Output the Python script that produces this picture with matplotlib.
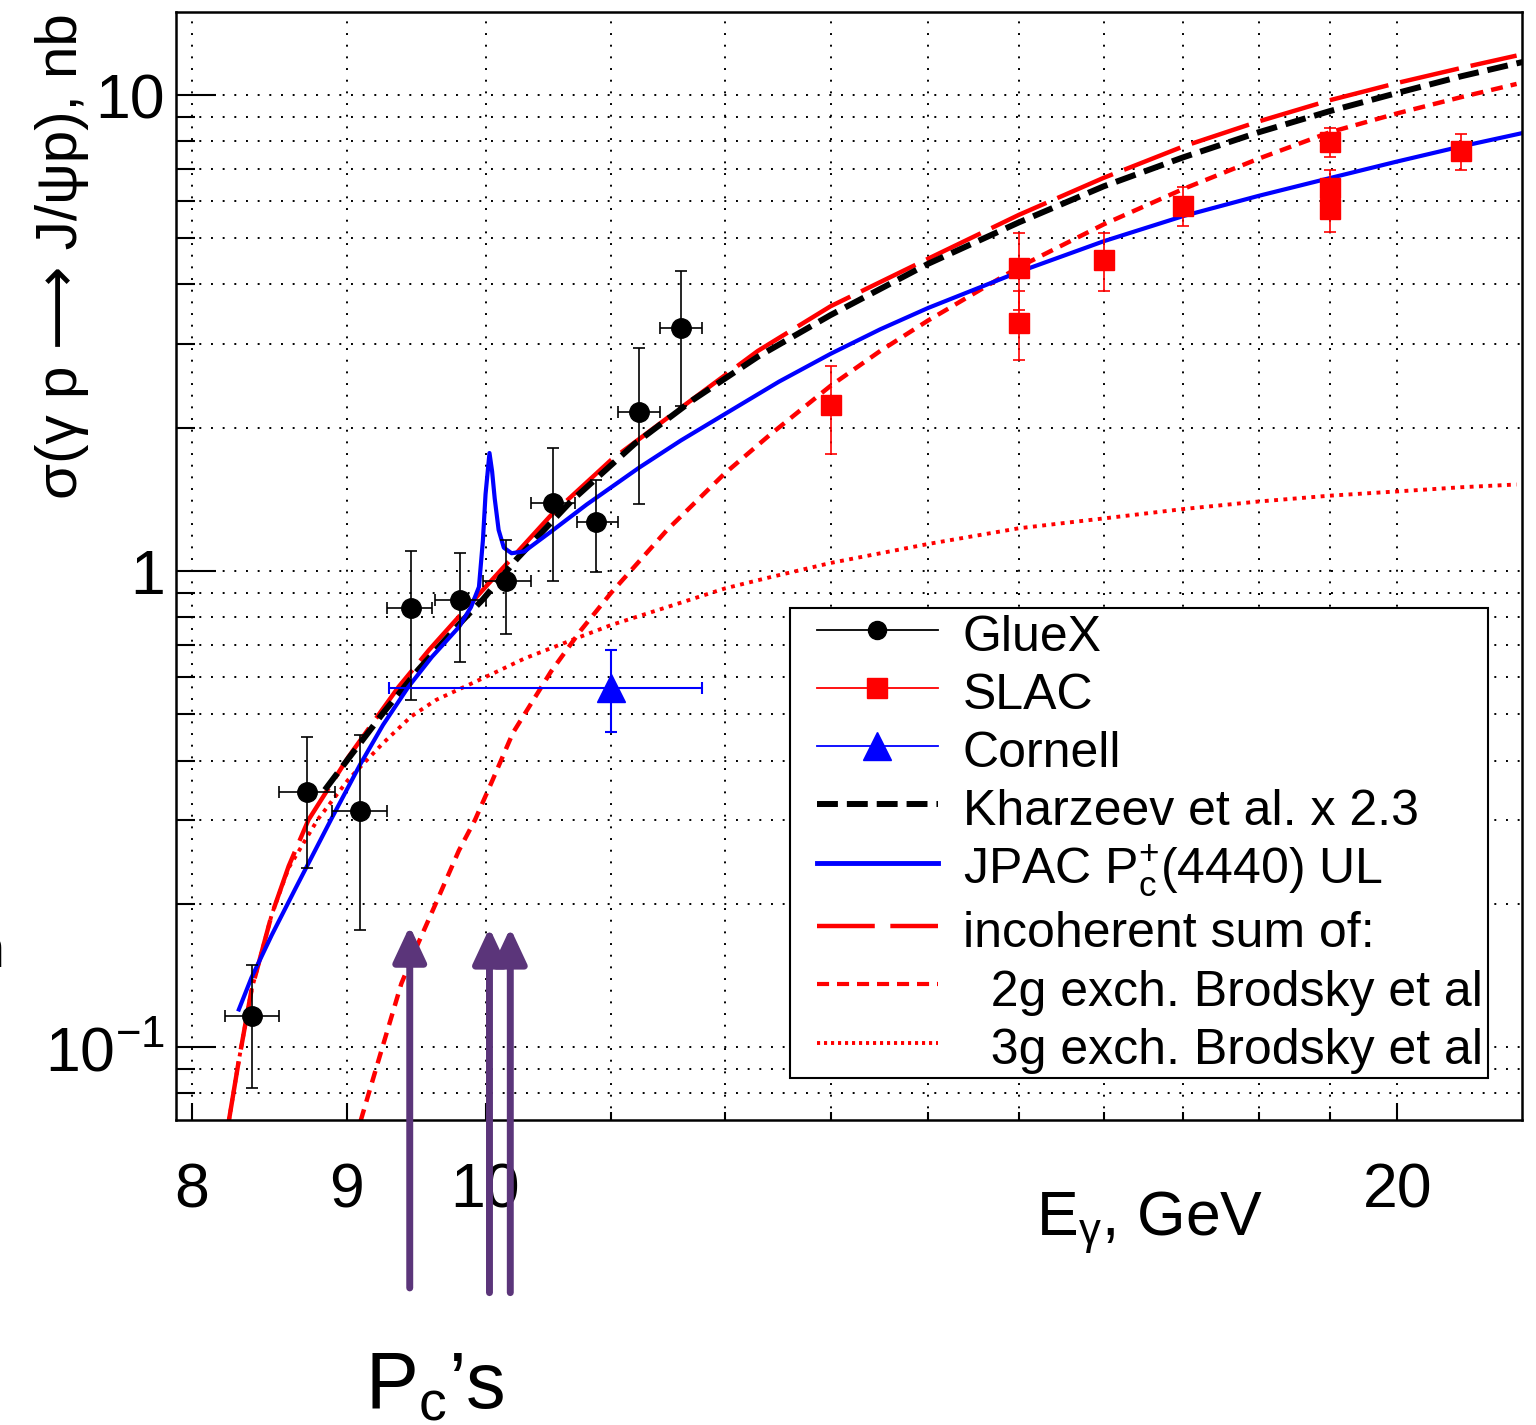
import matplotlib.pyplot as plt
from matplotlib.lines import Line2D
from matplotlib.patches import Rectangle
import numpy as np

plt.rcParams['font.family'] = ['Liberation Sans', 'DejaVu Sans']
plt.rcParams['mathtext.fontset'] = 'custom'
plt.rcParams['mathtext.rm'] = 'Liberation Sans'
plt.rcParams['mathtext.it'] = 'Liberation Sans:italic'
plt.rcParams['mathtext.bf'] = 'Liberation Sans:bold'

# GlueX (E, sigma) med fel
gluex_e = [8.37, 8.73, 9.09, 9.45, 9.81, 10.16, 10.53, 10.88, 11.24, 11.60]
gluex_e_lo = [8.20, 8.55, 8.90, 9.28, 9.62, 9.98, 10.35, 10.72, 11.06, 11.42]
gluex_e_hi = [8.55, 8.92, 9.28, 9.60, 10.00, 10.35, 10.70, 11.06, 11.42, 11.79]
gluex_sig = [0.116, 0.343, 0.313, 0.836, 0.869, 0.953, 1.39, 1.27, 2.16, 3.24]
gluex_sig_lo = [0.082, 0.238, 0.176, 0.536, 0.644, 0.737, 0.953, 0.995, 1.38, 2.22]
gluex_sig_hi = [0.149, 0.448, 0.452, 1.10, 1.09, 1.16, 1.81, 1.55, 2.94, 4.27]

# SLAC
slac_e = [13.0, 15.0, 15.0, 16.0, 17.0, 19.0, 19.0, 19.0, 21.0]
slac_sig = [2.23, 4.33, 3.32, 4.50, 5.85, 7.97, 6.38, 5.76, 7.63]
slac_err = [0.47, 0.80, 0.55, 0.62, 0.55, 0.55, 0.58, 0.60, 0.67]

# Cornell
cornell_e = [11.0]
cornell_e_lo = [9.29]
cornell_e_hi = [11.79]
cornell_sig = [0.568]
cornell_sig_lo = [0.459]
cornell_sig_hi = [0.683]

# modellkurvor
kh_e = [8.85, 9.0, 9.25, 9.5, 9.83, 9.98, 10.24, 10.67, 11.2, 11.71, 12.3, 13.0, 14.0,
        15.0, 16.0, 17.0, 18.0, 19.0, 20.0, 21.0, 22.0]
kh_sig = [0.347, 0.40, 0.503, 0.62, 0.789, 0.872, 1.06, 1.40, 1.85, 2.29, 2.82, 3.45,
          4.42, 5.40, 6.43, 7.40, 8.35, 9.25, 10.1, 10.95, 11.73]

jpac_e = [8.29, 8.37, 8.50, 8.65, 8.89, 9.09, 9.25, 9.43, 9.60, 9.80, 9.89, 9.95, 9.98,
          10.00, 10.03, 10.05, 10.07, 10.10, 10.14, 10.20, 10.30, 10.51, 10.80, 11.24,
          11.60, 12.0, 12.5, 13.0, 13.5, 14.0, 15.0, 16.0, 17.0, 18.0, 19.0, 20.0, 21.0, 22.0]
jpac_sig = [0.120, 0.140, 0.172, 0.214, 0.300, 0.392, 0.475, 0.571, 0.660, 0.763, 0.84,
            0.926, 1.16, 1.45, 1.77, 1.62, 1.42, 1.22, 1.12, 1.09, 1.10, 1.21, 1.38, 1.65,
            1.88, 2.14, 2.50, 2.86, 3.22, 3.57, 4.25, 4.93, 5.57, 6.14, 6.69, 7.25, 7.80, 8.32]

sum_e = [8.227, 8.29, 8.37, 8.50, 8.61, 8.74, 9.01, 9.36, 9.58, 10.0, 10.51, 11.0,
         11.61, 12.3, 13.0, 14.0, 15.0, 16.0, 17.0, 18.0, 19.0, 20.0, 21.0, 21.9]
sum_sig = [0.070, 0.0939, 0.1318, 0.190, 0.240, 0.300, 0.407, 0.571, 0.683, 0.926,
           1.31, 1.71, 2.21, 2.90, 3.60, 4.53, 5.60, 6.70, 7.80, 8.80, 9.75, 10.6, 11.4, 12.1]

g2_e = [9.094, 9.24, 9.38, 9.50, 9.63, 9.80, 9.92, 10.05, 10.21, 10.51, 10.75, 11.0,
        11.48, 11.99, 12.41, 13.0, 13.5, 14.0, 15.0, 16.0, 17.0, 18.0, 19.0, 20.0, 21.0, 21.9]
g2_sig = [0.070, 0.0986, 0.136, 0.165, 0.2007, 0.259, 0.300, 0.362, 0.457, 0.615, 0.75,
          0.899, 1.22, 1.60, 1.93, 2.45, 2.90, 3.36, 4.35, 5.35, 6.35, 7.35, 8.35, 9.15,
          9.90, 10.55]

g3_e = [8.227, 8.29, 8.37, 8.50, 8.61, 8.80, 9.01, 9.25, 9.45, 9.63, 10.0, 10.3, 10.67,
        11.0, 11.48, 12.0, 12.41, 13.0, 14.0, 15.0, 16.0, 17.0, 18.0, 19.0, 20.0, 21.0, 21.9]
g3_sig = [0.070, 0.0939, 0.1318, 0.190, 0.238, 0.30, 0.365, 0.435, 0.495, 0.536, 0.599,
          0.655, 0.715, 0.77, 0.84, 0.92, 0.97, 1.04, 1.14, 1.23, 1.29, 1.35, 1.40, 1.44,
          1.47, 1.50, 1.52]

# Pc-pilar
pc_e = [9.44, 10.03, 10.19]
pc_tip = [0.1796, 0.178, 0.178]
pc_bottom = [0.0312, 0.0305, 0.0305]

x_ticks = [8, 9, 10, 20]
x_ticklabels = ['8', '9', '10', '20']
x_minor = [11, 12, 13, 14, 15, 16, 17, 18, 19]
y_ticks = [0.1, 1, 10]
y_ticklabels = ['$10^{-1}$', '1', '10']
y_minor = [0.08, 0.09, 0.2, 0.3, 0.4, 0.5, 0.6, 0.7, 0.8, 0.9, 2, 3, 4, 5, 6, 7, 8, 9]

legend_labels = ['GlueX', 'SLAC', 'Cornell', 'Kharzeev et al. x 2.3',
                 r'JPAC P$_{\mathrm{c}}^{+}$(4440) UL', 'incoherent sum of:',
                 '  2g exch. Brodsky et al', '  3g exch. Brodsky et al']

purple = '#5b357a'

fig = plt.figure(figsize=(15.36, 14.25), dpi=100)
ax = fig.add_axes([0.11458, 0.21404, 0.87630, 0.77754])
ax.set_xscale('log')
ax.set_yscale('log')
ax.set_xlim(7.903, 21.99)
ax.set_ylim(0.0703, 14.94)

ax.set_xticks(x_ticks)
ax.set_xticklabels(x_ticklabels)
ax.set_xticks(x_minor, minor=True)
ax.set_xticklabels([], minor=True)
ax.set_yticks(y_ticks)
ax.set_yticklabels(y_ticklabels)
ax.set_yticks(y_minor, minor=True)
ax.set_yticklabels([], minor=True)

ax.tick_params(which='both', direction='in', top=False, right=False, width=1.5,
               labelsize=45)
ax.tick_params(axis='y', which='major', length=29, pad=8)
ax.tick_params(axis='y', which='minor', length=14)
ax.tick_params(axis='x', which='major', length=12, pad=30)
ax.tick_params(axis='x', which='minor', length=6)
for s in ax.spines.values():
    s.set_linewidth(1.8)

ax.grid(True, which='both', color='black', linestyle=(0, (1, 5)), linewidth=1.4)
ax.set_axisbelow(True)

# kurvor
ax.plot(g3_e, g3_sig, color='red', lw=2.8, ls=(0, (1, 1.4)), zorder=2)
ax.plot(g2_e, g2_sig, color='red', lw=3.2, ls=(0, (2.7, 1.8)), zorder=2)
ax.plot(sum_e, sum_sig, color='red', lw=3.2, ls=(0, (13.6, 2.7)), zorder=2.1)
ax.plot(kh_e, kh_sig, color='black', lw=4.3, ls=(0, (3.5, 1.5)), zorder=2.2)
ax.plot(jpac_e, jpac_sig, color='blue', lw=3.0, zorder=2.3)

# datapunkter
ge = np.array(gluex_e)
gs = np.array(gluex_sig)
ax.errorbar(ge, gs,
            xerr=[ge - np.array(gluex_e_lo), np.array(gluex_e_hi) - ge],
            yerr=[gs - np.array(gluex_sig_lo), np.array(gluex_sig_hi) - gs],
            fmt='o', color='black', ms=14, elinewidth=1.2, capsize=4, capthick=1.2,
            zorder=4)
ax.errorbar(slac_e, slac_sig, yerr=slac_err, fmt='s', color='red', ms=14,
            elinewidth=1.2, capsize=4, capthick=1.2, zorder=4)
ce = np.array(cornell_e)
cs = np.array(cornell_sig)
ax.errorbar(ce, cs,
            xerr=[ce - np.array(cornell_e_lo), np.array(cornell_e_hi) - ce],
            yerr=[cs - np.array(cornell_sig_lo), np.array(cornell_sig_hi) - cs],
            fmt='^', color='blue', ms=20, elinewidth=1.5, capsize=4, capthick=1.5,
            zorder=4)

# Pc-pilar
for e, t, b in zip(pc_e, pc_tip, pc_bottom):
    ax.annotate('', xy=(e, t), xytext=(e, b),
                arrowprops=dict(arrowstyle='-|>,head_length=0.9,head_width=0.42',
                                mutation_scale=24, lw=5, color=purple,
                                shrinkA=0, shrinkB=0, clip_on=False),
                annotation_clip=False, zorder=3.5)

# legend
handles = [
    Line2D([], [], color='black', lw=1.3, marker='o', ms=13),
    Line2D([], [], color='red', lw=1.3, marker='s', ms=14),
    Line2D([], [], color='blue', lw=1.3, marker='^', ms=20),
    Line2D([], [], color='black', lw=4.3, ls=(0, (3.5, 1.5))),
    Line2D([], [], color='blue', lw=3.5),
    Line2D([], [], color='red', lw=3.2, ls=(0, (13, 3.5))),
    Line2D([], [], color='red', lw=3.0, ls=(0, (2.9, 1.9))),
    Line2D([], [], color='red', lw=2.8, ls=(0, (0.8, 1.0))),
]
ax.add_patch(Rectangle((0.4562, 0.0379), 0.5186, 0.4242, transform=ax.transAxes,
                       facecolor='white', edgecolor='black', lw=1.5, zorder=4.5))
ax.legend(handles, legend_labels, loc='upper left', bbox_to_anchor=(0.4762, 0.4615),
          frameon=False, fontsize=36, borderpad=0, borderaxespad=0,
          handlelength=2.42, handletextpad=0.5, handleheight=1.18, labelspacing=0.12
          ).set_zorder(5)

# axeltexter
ax.text(-0.0847, 0.999, 'σ(γ p ⟶ J/ψp), nb', transform=ax.transAxes, rotation=90,
        ha='center', va='top', fontsize=42)
fig.text(1036 / 1536, 1 - 1235 / 1425, r'E$_{\mathrm{γ}}$, GeV', ha='left',
         va='baseline', fontsize=45)
fig.text(365 / 1536, 1 - 1408 / 1425, r'P$_{\mathrm{c}}$’s', ha='left',
         va='baseline', fontsize=57)
fig.text(4 / 1536, 1 - 967 / 1425, 'n', ha='right', va='baseline', fontsize=40)

fig.savefig('out.png', dpi=100)
